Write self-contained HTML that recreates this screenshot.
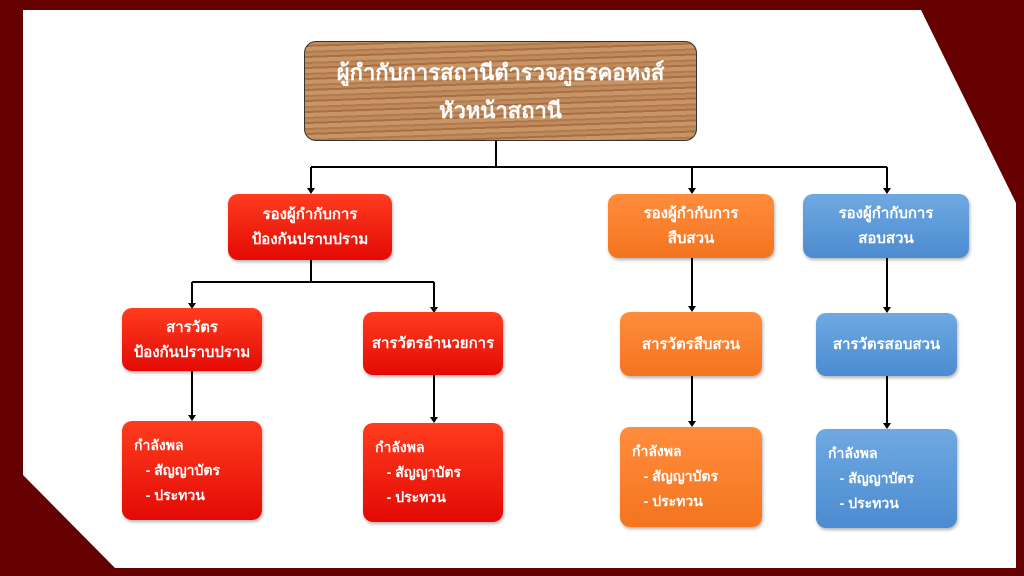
<!DOCTYPE html><html><head><meta charset="utf-8"><style>
body{margin:0;width:1024px;height:576px;background:#650000;position:relative;overflow:hidden;font-family:"Liberation Sans","Noto Sans CJK SC",sans-serif}
.bg{position:absolute;left:0;top:0}
.b{position:absolute;border-radius:10px;color:#fff;font-size:15px;font-weight:bold;line-height:25px;box-shadow:1px 2px 3px rgba(0,0,0,.3);box-sizing:border-box;display:flex;flex-direction:column;justify-content:center;text-align:center}
.r{background:linear-gradient(#ff3c1e,#e30a05)}
.o{background:linear-gradient(#ff8d3d,#f4741f)}
.u{background:linear-gradient(#6fa9e2,#4c8bd0)}
.l{text-align:left;justify-content:flex-start;padding:12px 0 0 12px;font-size:14px}
.wood{position:absolute;left:304px;top:41px;width:393px;height:100px;border-radius:12px;border:1px solid #333;box-sizing:border-box;background:repeating-linear-gradient(178deg,#c08a5c 0 3px,#a86e44 3px 5px,#c89566 5px 9px,#b07a4f 9px 11px);color:#fff;font-family:"Liberation Serif","Noto Serif CJK SC",serif;font-size:22px;line-height:38px;text-align:center;padding-top:12px;font-weight:bold}
</style></head><body>
<svg class="bg" width="1024" height="576">
<polygon points="23,10 921,10 1016,203 1016,568 115,568 23,475" fill="#fff"/>
<g stroke="#000" stroke-width="2" fill="none">
<path d="M496 141V167M311 167H887M311 167V190M692 167V190M887 167V190"/>
<path d="M311 260V282M192 282H434M192 282V305M434 282V309"/>
<path d="M192 371V417M434 375V419M692 258V308M692 376V423M887 258V309M887 376V425"/>
</g>
<g fill="#000">
<path d="M307 188h8l-4 6zM688 188h8l-4 6zM883 188h8l-4 6zM188 303h8l-4 6zM430 307h8l-4 6zM188 415h8l-4 6zM430 417h8l-4 6zM688 306h8l-4 6zM688 421h8l-4 6zM883 307h8l-4 6zM883 423h8l-4 6z"/>
</g>
</svg>
<div class="wood">ผู้กำกับการสถานีตำรวจภูธรคอหงส์<br>หัวหน้าสถานี</div>
<div class="b r" style="left:228px;top:194px;width:164px;height:66px">รองผู้กำกับการ<br>ป้องกันปราบปราม</div>
<div class="b o" style="left:608px;top:194px;width:166px;height:64px">รองผู้กำกับการ<br>สืบสวน</div>
<div class="b u" style="left:803px;top:194px;width:166px;height:64px">รองผู้กำกับการ<br>สอบสวน</div>
<div class="b r" style="left:122px;top:308px;width:140px;height:63px">สารวัตร<br>ป้องกันปราบปราม</div>
<div class="b r" style="left:363px;top:312px;width:140px;height:63px">สารวัตรอำนวยการ</div>
<div class="b o" style="left:620px;top:312px;width:142px;height:64px">สารวัตรสืบสวน</div>
<div class="b u" style="left:816px;top:313px;width:141px;height:63px">สารวัตรสอบสวน</div>
<div class="b r l" style="left:122px;top:421px;width:140px;height:99px">กำลังพล<br>&nbsp;&nbsp;&nbsp;- สัญญาบัตร<br>&nbsp;&nbsp;&nbsp;- ประทวน</div>
<div class="b r l" style="left:363px;top:423px;width:140px;height:99px">กำลังพล<br>&nbsp;&nbsp;&nbsp;- สัญญาบัตร<br>&nbsp;&nbsp;&nbsp;- ประทวน</div>
<div class="b o l" style="left:620px;top:427px;width:142px;height:100px">กำลังพล<br>&nbsp;&nbsp;&nbsp;- สัญญาบัตร<br>&nbsp;&nbsp;&nbsp;- ประทวน</div>
<div class="b u l" style="left:816px;top:429px;width:141px;height:99px">กำลังพล<br>&nbsp;&nbsp;&nbsp;- สัญญาบัตร<br>&nbsp;&nbsp;&nbsp;- ประทวน</div>
</body></html>
